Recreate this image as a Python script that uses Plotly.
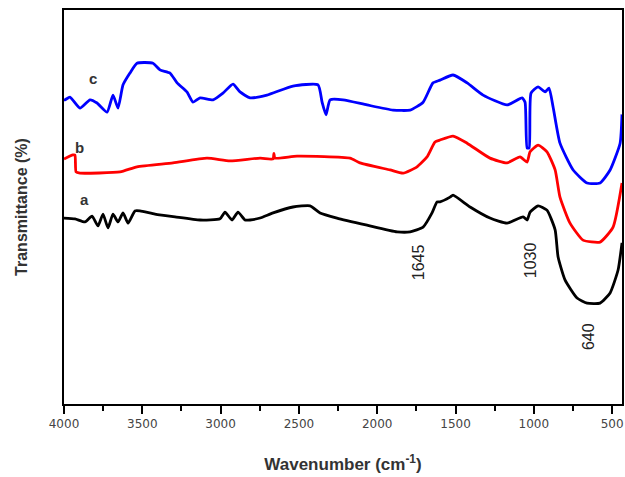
import plotly.graph_objects as go

# Sample c (blue)
wn_c = [4000, 3994, 3962, 3898, 3834, 3789, 3725, 3687, 3655, 3623, 3579, 3534, 3432, 3387,
        3323, 3278, 3215, 3176, 3131, 3048, 2985, 2921, 2876, 2812, 2704, 2538, 2378, 2352,
        2327, 2301, 2218, 2065, 1899, 1790, 1707, 1644, 1599, 1516, 1426, 1324, 1171, 1075,
        1056, 1043, 1030, 1018, 973, 928, 903, 877, 833, 749, 660, 577, 513, 449, 437]
t_c = [77.2, 77.2, 77.9, 75.1, 77.2, 76.4, 74.1, 78.4, 75.1, 81.0, 84.0, 86.5, 86.5, 84.8,
       84.0, 81.5, 79.2, 76.6, 77.7, 77.2, 78.9, 81.2, 79.2, 77.7, 78.4, 80.7, 81.0, 76.6,
       73.4, 77.2, 77.2, 75.9, 74.6, 74.6, 76.6, 81.5, 82.2, 83.5, 81.5, 78.4, 75.9, 77.7,
       76.6, 65.0, 65.0, 78.9, 80.5, 79.2, 80.2, 75.4, 66.2, 59.4, 56.1, 56.1, 59.4, 66.2, 73.5]

# Sample b (red)
wn_b = [4000, 3943, 3930, 3923, 3898, 3642, 3534, 3304, 3087, 2940, 2748, 2665, 2660, 2653,
        2512, 2174, 2110, 1918, 1835, 1746, 1682, 1631, 1599, 1516, 1426, 1280, 1171, 1088,
        1043, 1024, 973, 916, 864, 833, 769, 686, 577, 494, 437]
t_b = [62.2, 63.2, 63.2, 58.9, 58.6, 58.9, 60.2, 61.2, 62.4, 61.7, 62.4, 62.2, 63.6, 62.4,
       62.9, 62.4, 61.2, 59.4, 58.6, 60.2, 62.7, 66.5, 67.0, 68.0, 66.2, 62.4, 61.2, 62.7,
       61.4, 64.0, 65.7, 64.0, 59.4, 52.5, 45.9, 41.6, 41.1, 44.9, 56.1]

# Sample a (black)
wn_a = [4000, 3930, 3866, 3821, 3783, 3751, 3719, 3687, 3655, 3623, 3591, 3547, 3515, 3419,
        3291, 3131, 3004, 2972, 2927, 2889, 2844, 2812, 2748, 2665, 2538, 2429, 2365, 2257,
        2065, 1873, 1790, 1707, 1650, 1618, 1599, 1535, 1516, 1407, 1280, 1171, 1069, 1043,
        1024, 973, 916, 864, 845, 801, 724, 660, 577, 513, 462, 437]
t_a = [47.2, 47.0, 46.2, 47.7, 45.2, 48.2, 44.7, 48.2, 46.2, 48.5, 45.9, 49.0, 49.0, 48.2,
       47.5, 46.7, 47.0, 48.7, 46.7, 48.7, 46.7, 46.7, 47.2, 48.5, 50.0, 50.3, 48.5, 47.2,
       45.4, 43.7, 43.7, 44.9, 48.5, 51.3, 51.3, 52.5, 53.0, 50.0, 47.2, 45.9, 47.5, 46.7,
       48.7, 50.3, 49.2, 44.2, 37.3, 31.5, 26.9, 25.6, 25.6, 28.2, 34.0, 40.9]

series_labels = ["a", "b", "c"]
label_pos = [(3866, 52.0), (3898, 65.2), (3815, 82.5)]
peak_labels = ["1645", "1030", "640"]
peak_pos = [(1739, 36.0), (1024, 36.5), (654, 17.0)]
x_ticks = [4000, 3500, 3000, 2500, 2000, 1500, 1000, 500]

fig = go.Figure()
for wn, t, col in [(wn_a, t_a, "#000000"), (wn_b, t_b, "#ff0000"), (wn_c, t_c, "#0000ff")]:
    fig.add_trace(go.Scatter(x=wn, y=t, mode="lines",
                             line=dict(color=col, width=2.8, shape="spline", smoothing=0.5),
                             showlegend=False, hoverinfo="skip"))

for lab, (x, y) in zip(series_labels, label_pos):
    fig.add_annotation(x=x, y=y, text="<b>" + lab + "</b>", showarrow=False,
                       font=dict(family="Arial", size=15, color="#333333"))
for lab, (x, y) in zip(peak_labels, peak_pos):
    fig.add_annotation(x=x, y=y, text=lab, showarrow=False, textangle=-90,
                       font=dict(family="Arial", size=16, color="#222222"))

fig.update_layout(
    width=625, height=477,
    margin=dict(l=64, r=3, t=10, b=73),
    paper_bgcolor="white", plot_bgcolor="white",
    font=dict(family="Arial", color="#333333"),
    xaxis=dict(range=[4000, 437], tickvals=x_ticks, ticktext=[str(v) for v in x_ticks],
               automargin=False,
               ticks="outside", ticklen=8, tickwidth=2, tickcolor="black",
               minor=dict(dtick=250, tick0=500, ticks="outside", ticklen=5, tickwidth=2, tickcolor="black"),
               showline=True, linecolor="black", linewidth=2, mirror=True,
               showgrid=False, zeroline=False,
               tickfont=dict(family="DejaVu Sans", size=12, color="#444444"),
               title=dict(text="<b>Wavenumber (cm<sup>-1</sup>)</b>", standoff=28,
                          font=dict(family="Arial", size=17, color="#333333"))),
    yaxis=dict(range=[0, 100], showticklabels=False, ticks="", automargin=False,
               showline=True, linecolor="black", linewidth=2, mirror=True,
               showgrid=False, zeroline=False,
               title=dict(text="<b>Transmittance (%)</b>", standoff=30,
                          font=dict(family="Arial", size=16, color="#333333"))),
)

fig.write_html("out.html", config={"displayModeBar": False},
               post_script="document.body.style.margin='0';document.body.style.overflow='hidden';")
